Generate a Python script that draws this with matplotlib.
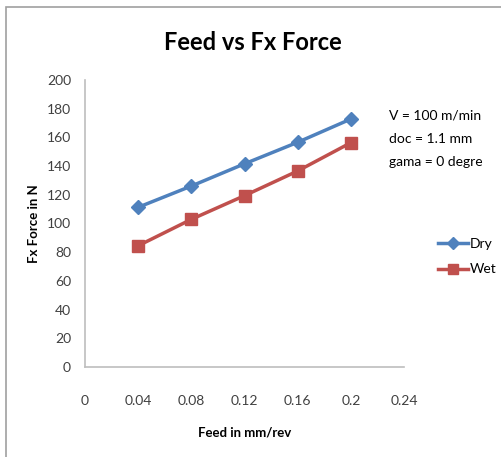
import matplotlib.pyplot as plt
from matplotlib.patches import Rectangle

plt.rcParams['font.family'] = ['Lato', 'DejaVu Sans']

# data
feed = [0.04, 0.08, 0.12, 0.16, 0.2]
dry = [111.3, 126.1, 141.6, 156.6, 172.8]
wet = [84.5, 102.9, 119.4, 136.6, 156.3]
xticks = [0, 0.04, 0.08, 0.12, 0.16, 0.2, 0.24]
xtick_labels = ['0', '0.04', '0.08', '0.12', '0.16', '0.2', '0.24']
yticks = list(range(0, 201, 20))

blue = '#4F81BD'
red = '#C0504D'
grey = '#404040'

fig = plt.figure(figsize=(5.01, 4.57), dpi=100)
# outer chart border (only left and top visible in the crop)
fig.patches.append(Rectangle((6/501, -0.1), 1.2, (457-7)/457 + 0.1, transform=fig.transFigure,
                             fill=False, edgecolor='#A0A0A0', lw=1.2))

ax = fig.add_axes([85/501, (457-367)/457, (404-85)/501, (367-80)/457])
ax.plot(feed, dry, color=blue, lw=2.5, marker='D', ms=7, label='Dry')
ax.plot(feed, wet, color=red, lw=2.5, marker='s', ms=8, label='Wet')

ax.set_xlim(0, 0.24)
ax.set_ylim(0, 200)
ax.set_xticks(xticks)
ax.set_xticklabels(xtick_labels)
ax.set_yticks(yticks)
ax.tick_params(length=0, labelsize=10, colors=grey)
ax.tick_params(axis='x', pad=20)
ax.tick_params(axis='y', pad=10)
for s in ['top', 'right']:
    ax.spines[s].set_visible(False)
for s in ['left', 'bottom']:
    ax.spines[s].set_color('#BEBEBE')
    ax.spines[s].set_linewidth(1.2)

ax.set_xlabel('Feed in mm/rev', fontweight='bold', fontsize=9.5, labelpad=14)
ax.set_ylabel('Fx Force in N', fontweight='bold', fontsize=9.5, labelpad=5)
fig.text(253/501, 1 - 42/457, 'Feed vs Fx Force', fontsize=17, fontweight='bold',
         ha='center', va='center')

fig.text(389/501, 1 - 115/457, 'V = 100 m/min', fontsize=10, va='center')
fig.text(389/501, 1 - 139/457, 'doc = 1.1 mm', fontsize=10, va='center')
fig.text(389/501, 1 - 162/457, 'gama = 0 degre', fontsize=10, va='center')

fig.legend(loc='upper left', bbox_to_anchor=(432/501, 1 - 232/457), frameon=False,
           fontsize=10, handlelength=2.2, handletextpad=0.1, labelspacing=1.0,
           borderaxespad=0, markerscale=0.85)

fig.savefig('out.png', dpi=100)
